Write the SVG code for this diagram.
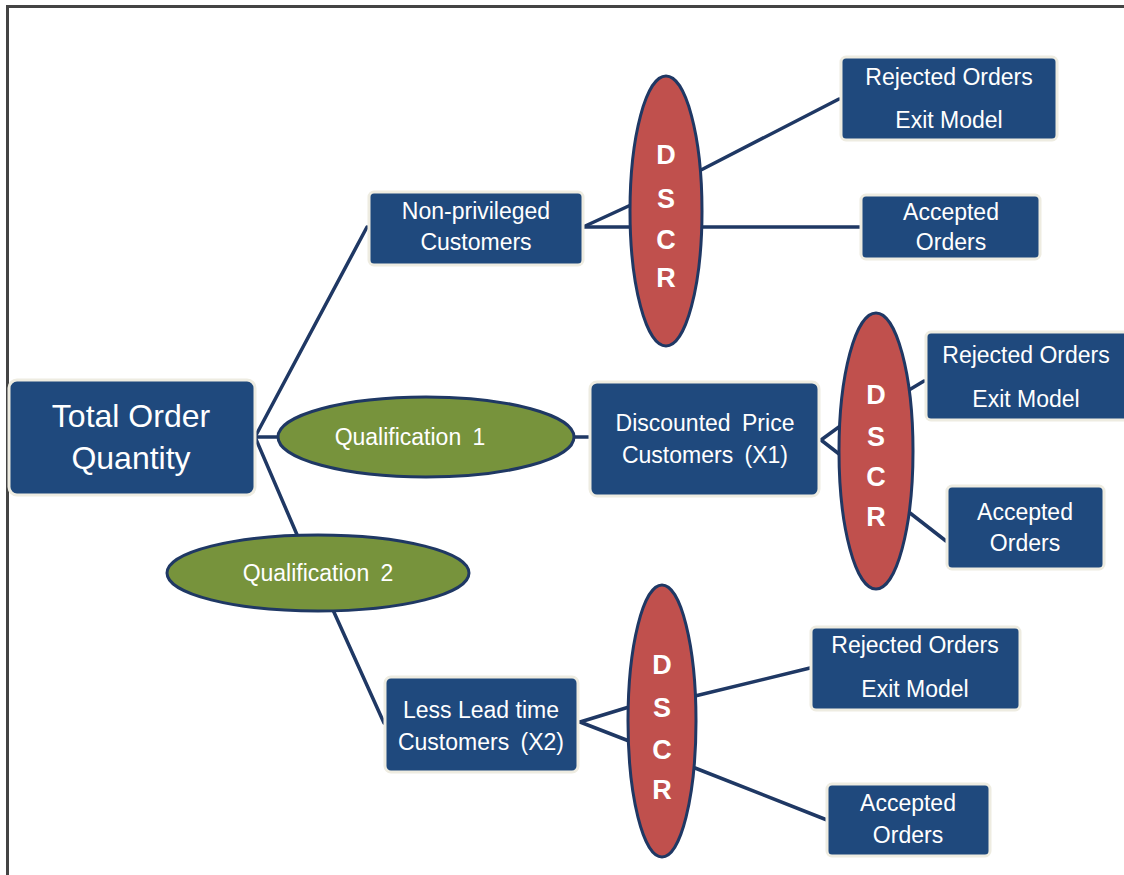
<svg xmlns="http://www.w3.org/2000/svg" width="1124" height="875" viewBox="0 0 1124 875">
<style>
.box{fill:#1F497D;stroke:#EEECE1;stroke-width:3}
.dscr{fill:#C0504D;stroke:#1F3864;stroke-width:3}
.qual{fill:#77933C;stroke:#1F3864;stroke-width:3}
.t{font-family:"Liberation Sans",Arial,sans-serif;fill:#FFFFFF;text-anchor:middle;font-size:23px}
.w{word-spacing:5px}
.big{font-size:32px}
.d{font-weight:bold;font-size:27px}
.conn line{stroke:#1F3864;stroke-width:3.5;stroke-linecap:round}
</style>
<rect x="0" y="0" width="1124" height="875" fill="#FFFFFF"/>
<path d="M7.5 875 V6.5 H1124" fill="none" stroke="#444444" stroke-width="3"/>
<g class="conn" id="connectors">
<line x1="255" y1="437" x2="367" y2="227"/>
<line x1="255" y1="437" x2="280" y2="437"/>
<line x1="255" y1="437" x2="298" y2="537"/>
<line x1="573" y1="437" x2="590" y2="437"/>
<line x1="333" y1="610" x2="384" y2="723"/>
<line x1="583" y1="227" x2="633" y2="204"/>
<line x1="583" y1="227" x2="633" y2="227"/>
<line x1="700" y1="227" x2="861" y2="227"/>
<line x1="701" y1="170" x2="839" y2="99"/>
<line x1="821" y1="440" x2="843" y2="424"/>
<line x1="821" y1="440" x2="843" y2="457"/>
<line x1="909" y1="390" x2="924" y2="381"/>
<line x1="910" y1="513" x2="946" y2="541"/>
<line x1="580" y1="722" x2="629" y2="707"/>
<line x1="580" y1="722" x2="629" y2="741"/>
<line x1="695" y1="696" x2="810" y2="668"/>
<line x1="695" y1="768" x2="827" y2="820"/>
</g>
<g id="total">
<rect class="box" x="9" y="380" width="246" height="115" rx="8"/>
<text class="t big" x="131" y="427">Total Order</text>
<text class="t big" x="131" y="469">Quantity</text>
</g>
<g id="qual1">
<ellipse class="qual" cx="426" cy="437" rx="148" ry="40"/>
<text class="t w" x="410" y="445">Qualification 1</text>
</g>
<g id="qual2">
<ellipse class="qual" cx="318" cy="573" rx="151" ry="38"/>
<text class="t w" x="318" y="581">Qualification 2</text>
</g>
<g id="nonpriv">
<rect class="box" x="369" y="192" width="214" height="73" rx="5"/>
<text class="t" x="476" y="219">Non-privileged</text>
<text class="t" x="476" y="250">Customers</text>
</g>
<g id="dscr1">
<ellipse class="dscr" cx="666" cy="211" rx="36" ry="135"/>
<text class="t d" x="666" y="164">D</text>
<text class="t d" x="666" y="208">S</text>
<text class="t d" x="666" y="249">C</text>
<text class="t d" x="666" y="287">R</text>
</g>
<g id="rej1">
<rect class="box" x="841" y="57" width="216" height="83" rx="5"/>
<text class="t" x="949" y="85">Rejected Orders</text>
<text class="t" x="949" y="128">Exit Model</text>
</g>
<g id="acc1">
<rect class="box" x="861" y="195" width="179" height="64" rx="5"/>
<text class="t" x="951" y="220">Accepted</text>
<text class="t" x="951" y="250">Orders</text>
</g>
<g id="disc">
<rect class="box" x="590" y="382" width="229" height="114" rx="7"/>
<text class="t w" x="705" y="431">Discounted Price</text>
<text class="t w" x="705" y="463">Customers (X1)</text>
</g>
<g id="dscr2">
<ellipse class="dscr" cx="876" cy="451" rx="37" ry="138"/>
<text class="t d" x="876" y="404">D</text>
<text class="t d" x="876" y="446">S</text>
<text class="t d" x="876" y="486">C</text>
<text class="t d" x="876" y="526">R</text>
</g>
<g id="rej2">
<rect class="box" x="926" y="332" width="205" height="88" rx="5"/>
<text class="t" x="1026" y="363">Rejected Orders</text>
<text class="t" x="1026" y="407">Exit Model</text>
</g>
<g id="acc2">
<rect class="box" x="947" y="486" width="157" height="83" rx="5"/>
<text class="t" x="1025" y="520">Accepted</text>
<text class="t" x="1025" y="551">Orders</text>
</g>
<g id="less">
<rect class="box" x="385" y="677" width="193" height="95" rx="6"/>
<text class="t" x="481" y="718">Less Lead time</text>
<text class="t w" x="481" y="750">Customers (X2)</text>
</g>
<g id="dscr3">
<ellipse class="dscr" cx="662" cy="721" rx="34" ry="136"/>
<text class="t d" x="662" y="674">D</text>
<text class="t d" x="662" y="717">S</text>
<text class="t d" x="662" y="759">C</text>
<text class="t d" x="662" y="799">R</text>
</g>
<g id="rej3">
<rect class="box" x="811" y="627" width="209" height="83" rx="5"/>
<text class="t" x="915" y="653">Rejected Orders</text>
<text class="t" x="915" y="697">Exit Model</text>
</g>
<g id="acc3">
<rect class="box" x="827" y="784" width="163" height="72" rx="5"/>
<text class="t" x="908" y="811">Accepted</text>
<text class="t" x="908" y="843">Orders</text>
</g>
</svg>
